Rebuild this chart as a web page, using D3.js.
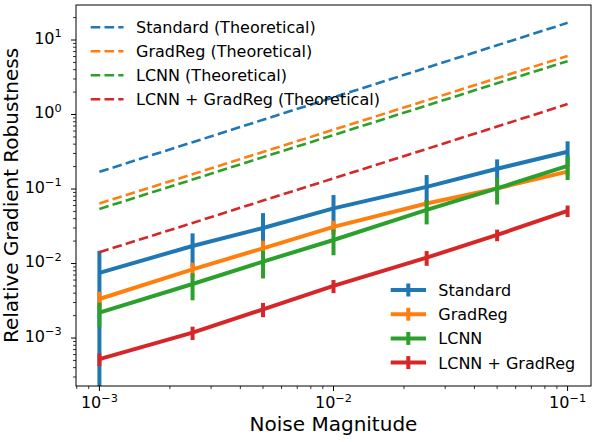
<!DOCTYPE html>
<html><head><meta charset="utf-8">
<script src="https://cdn.jsdelivr.net/npm/d3@7"></script>
<style>body{margin:0;background:#fff}svg{display:block;font-family:"DejaVu Sans",sans-serif}</style>
</head><body><svg id="c" width="598" height="442"></svg>
<script>
const noise = [0.001, 0.0025, 0.005, 0.01, 0.025, 0.05, 0.1];
const seriesNames = ["Standard", "GradReg", "LCNN", "LCNN + GradReg"];
const colors = ["#1f77b4", "#ff7f0e", "#2ca02c", "#d62728"];
const standardMean = [0.0075, 0.0172, 0.030, 0.055, 0.107, 0.187, 0.317];
const standardErr  = [0.0073, 0.0082, 0.0175, 0.028, 0.047, 0.063, 0.12];
const gradregMean  = [0.00334, 0.00836, 0.016, 0.031, 0.064, 0.102, 0.171];
const gradregErr   = [0.00085, 0.0019, 0.0042, 0.0065, 0.007, 0.015, 0.02];
const lcnnMean     = [0.00219, 0.00531, 0.0106, 0.0207, 0.0525, 0.102, 0.204];
const lcnnErr      = [0.0008, 0.0021, 0.0043, 0.0078, 0.019, 0.04, 0.072];
const bothMean     = [0.00052, 0.00118, 0.00243, 0.0050, 0.0120, 0.0242, 0.051];
const bothErr      = [0.0001, 0.00024, 0.00053, 0.001, 0.0027, 0.0043, 0.009];
const standardTheo = [0.17, 0.425, 0.85, 1.7, 4.25, 8.5, 17.0];
const gradregTheo  = [0.064, 0.158, 0.315, 0.625, 1.55, 3.08, 6.1];
const lcnnTheo     = [0.054, 0.134, 0.268, 0.53, 1.32, 2.63, 5.2];
const bothTheo     = [0.0142, 0.035, 0.07, 0.139, 0.345, 0.69, 1.38];
const xTickExps = [-3, -2, -1];
const yTickExps = [-3, -2, -1, 0, 1];
const xLabel = "Noise Magnitude";
const yLabel = "Relative Gradient Robustness";

const means = [standardMean, gradregMean, lcnnMean, bothMean];
const errs = [standardErr, gradregErr, lcnnErr, bothErr];
const theos = [standardTheo, gradregTheo, lcnnTheo, bothTheo];

const L = 76, R = 591, T = 5, B = 386;
const x = d3.scaleLog().domain([Math.pow(10, -3.1), Math.pow(10, -0.9)]).range([L, R]);
const y = d3.scaleLog().domain([Math.pow(10, -3.644), Math.pow(10, 1.47)]).range([B, T]);

const svg = d3.select("#c");
svg.append("defs").append("clipPath").attr("id", "clip")
  .append("rect").attr("x", L).attr("y", T).attr("width", R - L).attr("height", B - T);
const plot = svg.append("g").attr("clip-path", "url(#clip)");

const line = d3.line().x(d => x(d[0])).y(d => y(d[1]));

// measured series with error bars
means.forEach((m, i) => {
  const g = plot.append("g");
  g.append("path").datum(noise.map((n, j) => [n, m[j]]))
    .attr("d", line).attr("fill", "none").attr("stroke", colors[i]).attr("stroke-width", 4)
    .attr("stroke-linejoin", "round");
  g.selectAll("line.eb").data(noise).enter().append("line")
    .attr("x1", d => x(d)).attr("x2", d => x(d))
    .attr("y1", (d, j) => y(m[j] + errs[i][j]))
    .attr("y2", (d, j) => { const lo = m[j] - errs[i][j]; return lo > 0 ? y(lo) : B + 10; })
    .attr("stroke", colors[i]).attr("stroke-width", 4);
});

// theoretical dashed lines
theos.forEach((t, i) => {
  plot.append("path").datum(noise.map((n, j) => [n, t[j]]))
    .attr("d", line).attr("fill", "none").attr("stroke", colors[i]).attr("stroke-width", 2.6)
    .attr("stroke-dasharray", "9.6,4.2");
});

// axes frame
svg.append("rect").attr("x", L).attr("y", T).attr("width", R - L).attr("height", B - T)
  .attr("fill", "none").attr("stroke", "#000").attr("stroke-width", 1);

function minorTicks(scale) {
  const [a, b] = scale.domain();
  const out = [];
  for (let e = Math.floor(Math.log10(a)); e <= Math.ceil(Math.log10(b)); e++) {
    for (let k = 2; k <= 9; k++) {
      const v = k * Math.pow(10, e);
      if (v >= a && v <= b) out.push(v);
    }
  }
  return out;
}

const ax = svg.append("g");
// x ticks
minorTicks(x).forEach(v => ax.append("line").attr("x1", x(v)).attr("x2", x(v)).attr("y1", B).attr("y2", B + 3).attr("stroke", "#000").attr("stroke-width", 0.8));
xTickExps.forEach(e => {
  const v = Math.pow(10, e);
  ax.append("line").attr("x1", x(v)).attr("x2", x(v)).attr("y1", B).attr("y2", B + 5).attr("stroke", "#000").attr("stroke-width", 1);
  const t = ax.append("text").attr("x", x(v)).attr("y", 408.3).attr("text-anchor", "middle").attr("font-size", 16).attr("fill", "#000");
  t.append("tspan").text("10");
  t.append("tspan").attr("dy", -6.8).attr("font-size", 11.3).text("\u2212" + Math.abs(e));
});
// y ticks
minorTicks(y).forEach(v => ax.append("line").attr("x1", L).attr("x2", L - 3).attr("y1", y(v)).attr("y2", y(v)).attr("stroke", "#000").attr("stroke-width", 0.8));
yTickExps.forEach(e => {
  const v = Math.pow(10, e);
  ax.append("line").attr("x1", L).attr("x2", L - 5).attr("y1", y(v)).attr("y2", y(v)).attr("stroke", "#000").attr("stroke-width", 1);
  const t = ax.append("text").attr("x", 61.7).attr("y", y(v) + 3.8).attr("text-anchor", "end").attr("font-size", 16).attr("fill", "#000");
  t.append("tspan").text("10");
  t.append("tspan").attr("dy", -6.8).attr("font-size", 11.3).text(e < 0 ? "\u2212" + Math.abs(e) : String(e));
});

svg.append("text").attr("x", (L + R) / 2).attr("y", 431).attr("text-anchor", "middle").attr("font-size", 20).text(xLabel);
svg.append("text").attr("transform", `translate(18.3,${(T + B) / 2}) rotate(-90)`).attr("text-anchor", "middle").attr("font-size", 20).text(yLabel);

// legend: theoretical
const leg1 = svg.append("g");
seriesNames.forEach((n, i) => {
  const cy = 27.3 + i * 24;
  leg1.append("line").attr("x1", 90.7).attr("x2", 123.5).attr("y1", cy).attr("y2", cy)
    .attr("stroke", colors[i]).attr("stroke-width", 2.6).attr("stroke-dasharray", "9.6,4.2");
  leg1.append("text").attr("x", 136).attr("y", cy + 6).attr("font-size", 16).text(n + " (Theoretical)");
});
// legend: measured
const leg2 = svg.append("g");
seriesNames.forEach((n, i) => {
  const cy = 290 + i * 24.2;
  leg2.append("line").attr("x1", 390.7).attr("x2", 426).attr("y1", cy).attr("y2", cy)
    .attr("stroke", colors[i]).attr("stroke-width", 4);
  leg2.append("line").attr("x1", 408.3).attr("x2", 408.3).attr("y1", cy - 6.5).attr("y2", cy + 6.5)
    .attr("stroke", colors[i]).attr("stroke-width", 4);
  leg2.append("text").attr("x", 438.3).attr("y", cy + 6).attr("font-size", 16).text(n);
});
</script></body></html>
